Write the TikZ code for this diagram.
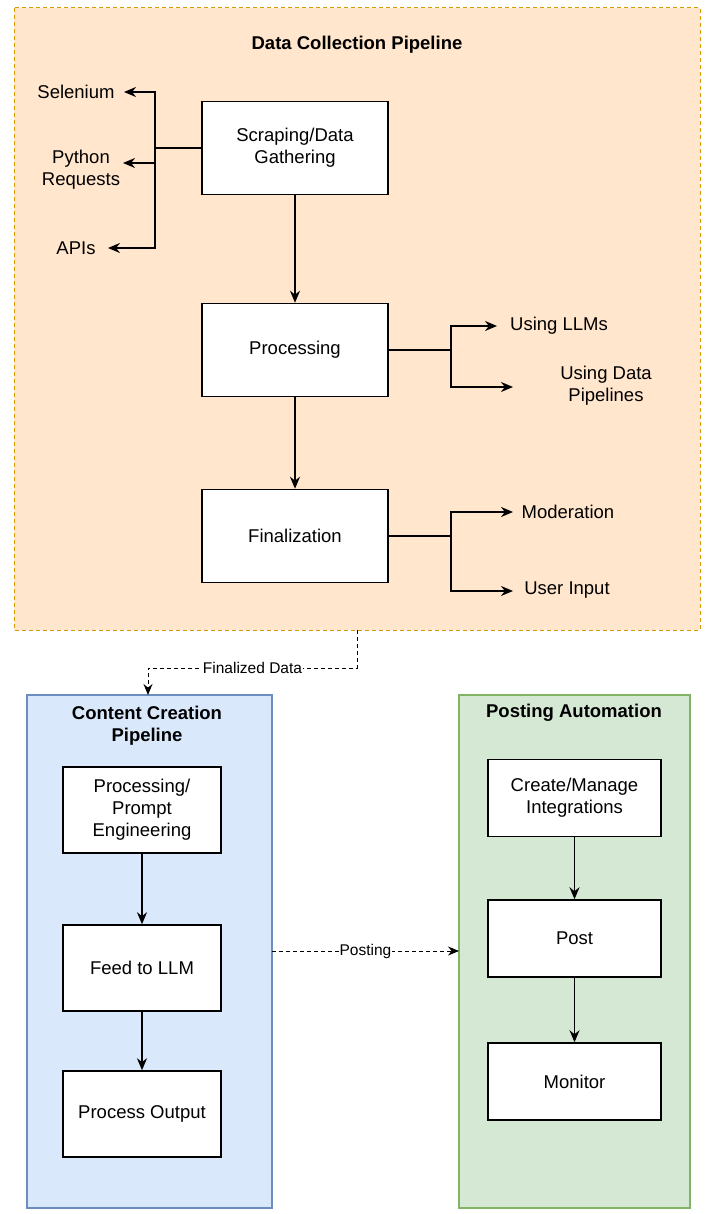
\documentclass[tikz,border=0pt]{standalone}
\usepackage{fontspec}
\setmainfont{Liberation Sans}
\usetikzlibrary{arrows.meta}
\definecolor{orangefill}{HTML}{FFE6CC}
\definecolor{orangeline}{HTML}{D79B00}
\definecolor{bluefill}{HTML}{DAE8FC}
\definecolor{blueline}{HTML}{6C8EBF}
\definecolor{greenfill}{HTML}{D5E8D4}
\definecolor{greenline}{HTML}{82B366}
\begin{document}
\begin{tikzpicture}[x=1pt, y=-1pt, font=\fontsize{18.5}{22}\selectfont]
    % Styles
    \tikzstyle{stage} = [rectangle, draw=black, line width=1.5pt, fill=white, align=center, inner sep=0pt]
    \tikzstyle{arrow} = [-{Stealth[length=12pt, width=10pt]}, line width=1.5pt]
    \tikzstyle{dasharrow} = [-{Stealth[length=11pt, width=9pt]}, dash pattern=on 4pt off 3pt, line width=1pt]
    \tikzstyle{tag} = [align=center, inner sep=1pt]
    \tikzstyle{title} = [align=center, font=\fontsize{18.5}{22}\selectfont\bfseries]

    \useasboundingbox (0,0) rectangle (709,1214);

    % Containers
    \draw[orangeline, fill=orangefill, dash pattern=on 4pt off 3pt, line width=1pt] (14,8) rectangle (700,630);
    \draw[blueline, fill=bluefill, line width=1.5pt] (27,695) rectangle (272,1208);
    \draw[greenline, fill=greenfill, line width=1.5pt] (459,695) rectangle (690,1208);
    \node[title] at (357,45) {Data Collection Pipeline};
    \node[title] at (147,726) {Content Creation\\Pipeline};
    \node[title] at (574,713) {Posting Automation};

    % Data collection nodes
    \node[stage, minimum width=186pt, minimum height=93pt] (scrape) at (295,148) {Scraping/Data\\Gathering};
    \node[stage, minimum width=186pt, minimum height=93pt] (proc) at (295,350) {Processing};
    \node[stage, minimum width=186pt, minimum height=93pt] (final) at (295,536) {Finalization};

    \node[tag] (selen) at (76,92) {Selenium};
    \node[tag] (pyreq) at (81,170) {Python\\Requests};
    \node[tag] (apis) at (76,248) {APIs};
    \node[tag] (llms) at (559,326) {Using LLMs};
    \node[tag] (dpipe) at (606,386) {Using Data\\Pipelines};
    \node[tag] (moder) at (568,512) {Moderation};
    \node[tag] (uinput) at (567,590) {User Input};

    \coordinate (lsplit) at (155,148);
    \coordinate (psplit) at (451,350);
    \coordinate (fsplit) at (451,536);

    % Branches
    \draw[line width=1.5pt] (scrape.west) -- (lsplit);
    \draw[arrow] (lsplit) |- (124,92);
    \draw[arrow] (lsplit) |- (123,163);
    \draw[arrow] (lsplit) |- (108,248);
    \draw[line width=1.5pt] (proc.east) -- (psplit);
    \draw[arrow] (psplit) |- (497,326);
    \draw[arrow] (psplit) |- (513,387);
    \draw[line width=1.5pt] (final.east) -- (fsplit);
    \draw[arrow] (fsplit) |- (513,512);
    \draw[arrow] (fsplit) |- (513,591);

    \draw[arrow] (scrape) -- (proc);
    \draw[arrow] (proc) -- (final);

    % Content creation nodes
    \node[stage, minimum width=158pt, minimum height=86pt] (prompt) at (142,810) {Processing/\\Prompt\\Engineering};
    \node[stage, minimum width=158pt, minimum height=86pt] (feed) at (142,968) {Feed to LLM};
    \node[stage, minimum width=158pt, minimum height=86pt] (output) at (142,1114) {Process Output};
    \draw[arrow] (prompt) -- (feed);
    \draw[arrow] (feed) -- (output);

    % Posting nodes
    \node[stage, minimum width=173pt, minimum height=77pt] (integ) at (574.5,798) {Create/Manage\\Integrations};
    \node[stage, minimum width=173pt, minimum height=77pt] (post) at (574.5,938.5) {Post};
    \node[stage, minimum width=173pt, minimum height=77pt] (monitor) at (574.5,1081.5) {Monitor};
    \draw[arrow] (integ) -- (post);
    \draw[arrow] (post) -- (monitor);

    % Hand-overs
    \coordinate (dcbottom) at (357,630);
    \coordinate (cctop) at (148,695);
    \coordinate (cceast) at (272,951);
    \coordinate (pawest) at (459,951);
    \draw[dasharrow] (dcbottom) -- (357,668) -- node[fill=white, inner sep=1pt, font=\fontsize{15.5}{18}\selectfont] {Finalized Data} (148,668) -- (cctop);
    \draw[dasharrow] (cceast) -- node[fill=white, inner sep=1pt, font=\fontsize{15.5}{18}\selectfont] {Posting} (pawest);
\end{tikzpicture}
\end{document}
